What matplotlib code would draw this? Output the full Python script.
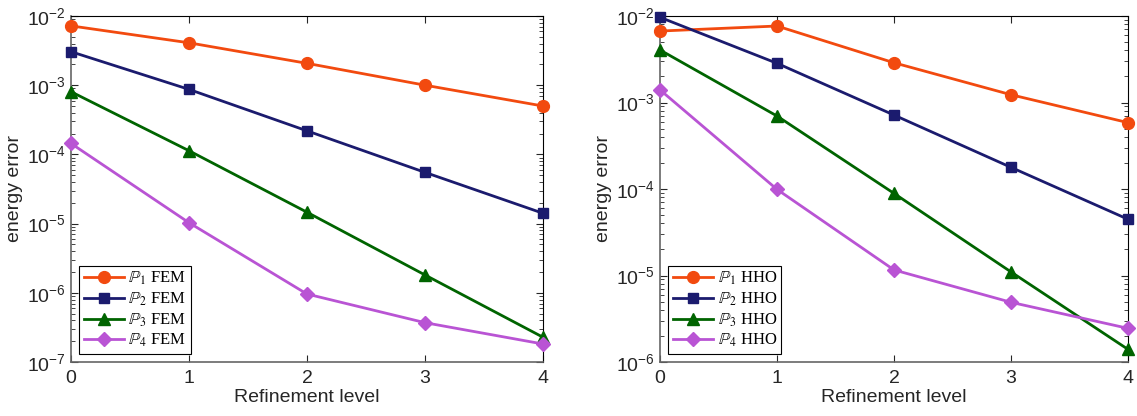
import numpy as np
import matplotlib
matplotlib.use("Agg")
import matplotlib.pyplot as plt
from matplotlib.ticker import LogLocator
from matplotlib.font_manager import FontProperties

plt.rcParams['font.family'] = ['Liberation Sans', 'DejaVu Sans']

# Data
levels = [0, 1, 2, 3, 4]

fem_p1 = [7.2e-3, 4.1e-3, 2.07e-3, 1.0e-3, 5.0e-4]
fem_p2 = [3.05e-3, 8.7e-4, 2.19e-4, 5.5e-5, 1.41e-5]
fem_p3 = [8.05e-4, 1.13e-4, 1.46e-5, 1.81e-6, 2.28e-7]
fem_p4 = [1.44e-4, 1.03e-5, 9.6e-7, 3.7e-7, 1.82e-7]

hho_p1 = [6.7e-3, 7.66e-3, 2.88e-3, 1.23e-3, 5.85e-4]
hho_p2 = [9.66e-3, 2.84e-3, 7.16e-4, 1.78e-4, 4.47e-5]
hho_p3 = [4.05e-3, 6.98e-4, 8.9e-5, 1.1e-5, 1.4e-6]
hho_p4 = [1.40e-3, 9.9e-5, 1.16e-5, 4.9e-6, 2.45e-6]

colors = ['#f24a0f', '#1b1b6e', '#006400', '#b954d4']
markers = ['o', 's', '^', 'D']
msizes = [8.5, 6.5, 8.5, 7]

fig = plt.figure(figsize=(11.37, 4.16), dpi=100)
ax1 = fig.add_axes([71 / 1137, 1 - 362 / 416, 472 / 1137, 346 / 416])
ax2 = fig.add_axes([660 / 1137, 1 - 362 / 416, 468 / 1137, 346 / 416])

legfont = FontProperties(family=['Liberation Serif', 'DejaVu Serif'], size=12,
                         math_fontfamily='stix')


def draw(ax, series, method, ylim):
    for i, ys in enumerate(series):
        ax.semilogy(levels, ys, color=colors[i], marker=markers[i],
                    markersize=msizes[i], linewidth=2,
                    label=r'$\mathbb{P}_%d$ %s' % (i + 1, method), clip_on=False, zorder=3)
    ax.set_xlim(0, 4)
    ax.set_ylim(*ylim)
    ax.set_xticks(levels)
    ax.yaxis.set_major_locator(LogLocator(base=10, numticks=20))
    ax.yaxis.set_minor_locator(LogLocator(base=10, subs=np.arange(2, 10), numticks=20))
    ax.tick_params(which='both', direction='in', top=True, right=True,
                   labelsize=14, colors='#262626')
    ax.tick_params(which='major', length=5)
    ax.tick_params(which='minor', length=3)
    ax.tick_params(axis='x', pad=6)
    for s in ['left', 'bottom']:
        ax.spines[s].set_color('#666666')
        ax.spines[s].set_linewidth(1.2)
    for s in ['top', 'right']:
        ax.spines[s].set_color('black')
        ax.spines[s].set_linewidth(0.8)
    ax.set_xlabel('Refinement level', fontsize=14, color='#262626', labelpad=1)
    ax.set_ylabel('energy error', fontsize=14, color='#262626', labelpad=3)
    leg = ax.legend(loc='lower left', prop=legfont, fancybox=False, framealpha=1,
                    edgecolor='black', borderpad=0.25, labelspacing=0.2,
                    handlelength=2.4, handletextpad=0.3, borderaxespad=0.5)
    leg.get_frame().set_linewidth(0.8)


draw(ax1, [fem_p1, fem_p2, fem_p3, fem_p4], 'FEM', (1e-7, 1e-2))
draw(ax2, [hho_p1, hho_p2, hho_p3, hho_p4], 'HHO', (1e-6, 1e-2))

fig.savefig('out.png', dpi=100)
